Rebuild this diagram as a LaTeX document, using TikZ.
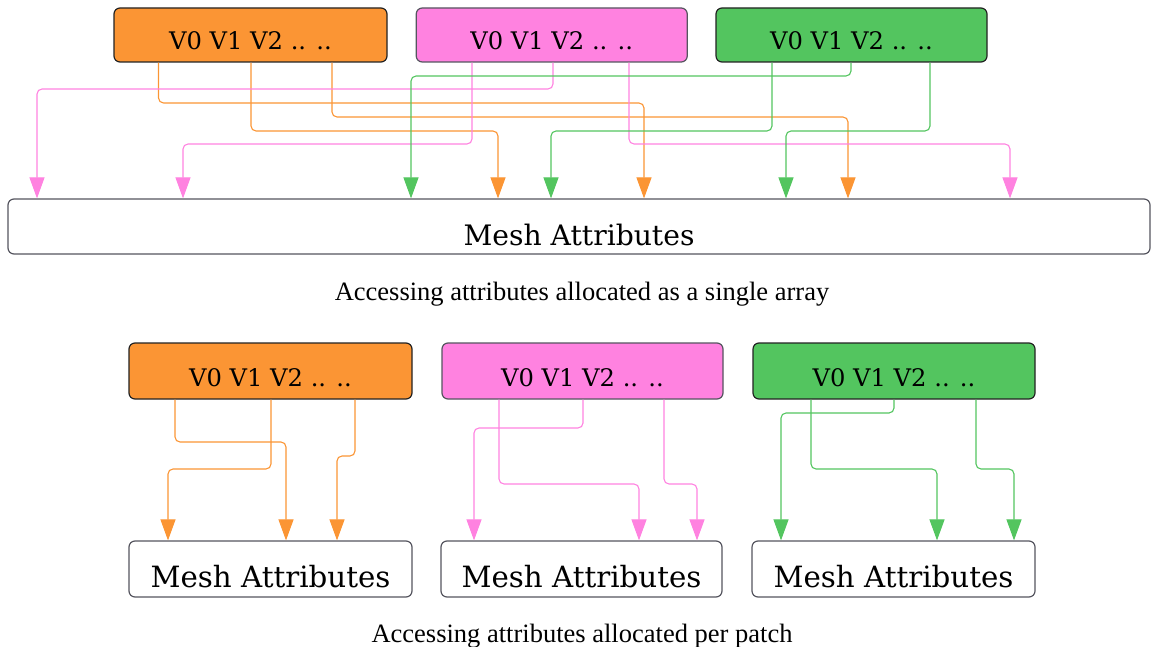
\documentclass[tikz,border=0pt]{standalone}
\usepackage{fontspec}
\setmainfont{DejaVu Serif}
\newfontfamily\capfont{Liberation Serif}
\usetikzlibrary{arrows.meta}
\definecolor{cor}{RGB}{251,149,52}
\definecolor{cpk}{RGB}{255,130,224}
\definecolor{cgr}{RGB}{83,197,95}
\definecolor{bdark}{RGB}{34,34,34}
\definecolor{bgrey}{RGB}{85,85,95}
\tikzset{
  vbox/.style={draw=bdark, line width=1.2pt, rounded corners=6pt, inner sep=0pt, minimum height=54pt, text height=30pt, text depth=0pt, font=\fontsize{24.2}{28}\selectfont},
  meshbox/.style={draw=bgrey, line width=1.2pt, rounded corners=6pt, fill=white, inner sep=0pt, text depth=0pt, font=\fontsize{28.2}{32}\selectfont},
  conn/.style={line width=1.1pt, rounded corners=5pt, -{Triangle[length=21pt,width=15pt]}},
  capt/.style={font=\capfont\fontsize{26.5}{30}\selectfont, inner sep=0pt}
}
\begin{document}
\begin{tikzpicture}[x=1pt,y=-1pt]
\useasboundingbox (0,0) rectangle (1153,647);
% top section
\node[vbox, fill=cor, minimum width=273pt] (o1) at (250.5,35) {V0 V1 V2 .. ..};
\node[vbox, fill=cpk, draw=bgrey, minimum width=271pt] (p1) at (551.75,35) {V0 V1 V2 .. ..};
\node[vbox, fill=cgr, minimum width=271pt] (g1) at (851.5,35) {V0 V1 V2 .. ..};
\node[meshbox, text height=37pt, minimum width=1142pt, minimum height=55pt] (m1) at (579,226.5) {Mesh Attributes};
\node[capt] (c1) at (582,294) {Accessing attributes allocated as a single array};
% top connectors
\draw[conn, cor] (o1.south -| 158.5,0) |- (644,103) -- (m1.north -| 644,0);
\draw[conn, cor] (o1.south -| 251,0) |- (498,131) -- (m1.north -| 498,0);
\draw[conn, cor] (o1.south -| 332,0) |- (848,117) -- (m1.north -| 848,0);
\draw[conn, cpk] (p1.south -| 472,0) |- (183,144) -- (m1.north -| 183,0);
\draw[conn, cpk] (p1.south -| 553,0) |- (37,89) -- (m1.north -| 37,0);
\draw[conn, cpk] (p1.south -| 629,0) |- (1010,144) -- (m1.north -| 1010,0);
\draw[conn, cgr] (g1.south -| 851,0) |- (411,76) -- (m1.north -| 411,0);
\draw[conn, cgr] (g1.south -| 772,0) |- (551,131) -- (m1.north -| 551,0);
\draw[conn, cgr] (g1.south -| 930,0) |- (786,131) -- (m1.north -| 786,0);
% bottom section
\node[vbox, fill=cor, minimum width=283pt, minimum height=56pt] (o2) at (270.5,371) {V0 V1 V2 .. ..};
\node[vbox, fill=cpk, draw=bgrey, minimum width=281pt, minimum height=56pt] (p2) at (582.5,371) {V0 V1 V2 .. ..};
\node[vbox, fill=cgr, minimum width=282pt, minimum height=56pt] (g2) at (894,371) {V0 V1 V2 .. ..};
\node[meshbox, text height=36pt, font=\fontsize{29.3}{33}\selectfont, minimum width=283pt, minimum height=56pt] (m2) at (270.5,569) {Mesh Attributes};
\node[meshbox, text height=36pt, font=\fontsize{29.3}{33}\selectfont, minimum width=281pt, minimum height=56pt] (m3) at (581.5,569) {Mesh Attributes};
\node[meshbox, text height=36pt, font=\fontsize{29.3}{33}\selectfont, minimum width=283pt, minimum height=56pt] (m4) at (893.5,569) {Mesh Attributes};
\node[capt] (c2) at (582,636) {Accessing attributes allocated per patch};
% bottom connectors
\draw[conn, cor] (o2.south -| 175,0) |- (286,442) -- (m2.north -| 286,0);
\draw[conn, cor] (o2.south -| 271,0) |- (168,469) -- (m2.north -| 168,0);
\draw[conn, cor] (o2.south -| 355,0) |- (337,456) -- (m2.north -| 337,0);
\draw[conn, cpk] (p2.south -| 499,0) |- (639,484) -- (m3.north -| 639,0);
\draw[conn, cpk] (p2.south -| 583,0) |- (474,428) -- (m3.north -| 474,0);
\draw[conn, cpk] (p2.south -| 664,0) |- (697,484) -- (m3.north -| 697,0);
\draw[conn, cgr] (g2.south -| 811,0) |- (937,469) -- (m4.north -| 937,0);
\draw[conn, cgr] (g2.south -| 894,0) |- (781,413) -- (m4.north -| 781,0);
\draw[conn, cgr] (g2.south -| 976,0) |- (1014,469) -- (m4.north -| 1014,0);
\end{tikzpicture}
\end{document}
